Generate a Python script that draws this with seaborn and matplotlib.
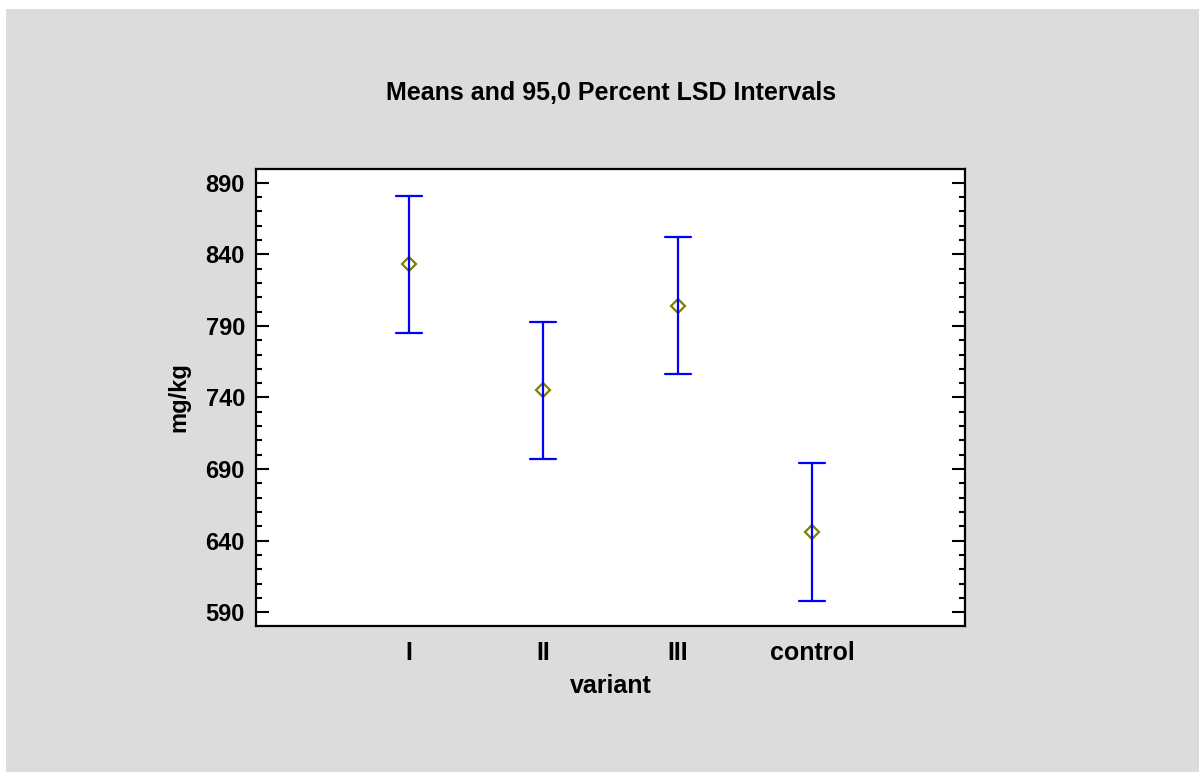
import numpy as np
import pandas as pd
import matplotlib
matplotlib.use("Agg")
import matplotlib.pyplot as plt
from matplotlib.patches import Rectangle
from matplotlib.ticker import MultipleLocator
import seaborn as sns

# Data
categories = ["I", "II", "III", "control"]
means = [833.0, 745.0, 804.2, 646.0]
half_widths = [48.0, 47.8, 47.9, 48.0]
y_ticks = [590, 640, 690, 740, 790, 840, 890]

title = "Means and 95,0 Percent LSD Intervals"
xlabel = "variant"
ylabel = "mg/kg"

# long-form table: interval limits per category
rows = []
for c, m, h in zip(categories, means, half_widths):
    rows.append({"variant": c, "value": m - h})
    rows.append({"variant": c, "value": m + h})
df = pd.DataFrame(rows)

sns.set_style("white")
plt.rcParams["font.family"] = ["Liberation Sans", "DejaVu Sans"]
plt.rcParams["font.weight"] = "bold"
plt.rcParams["text.color"] = "black"
plt.rcParams["axes.labelcolor"] = "black"
plt.rcParams["xtick.color"] = "black"
plt.rcParams["ytick.color"] = "black"

fig = plt.figure(figsize=(11.99, 7.72), dpi=100, facecolor="white")
fig.patches.append(Rectangle((6 / 1199, 0), 1 - 6 / 1199, (772 - 9) / 772,
                             transform=fig.transFigure, facecolor="#DCDCDC",
                             edgecolor="none", zorder=-10))
ax = fig.add_axes([256 / 1199, 1 - 626 / 772, (965 - 256) / 1199, (626 - 169) / 772])
ax.set_facecolor("white")

sns.pointplot(data=df, x="variant", y="value", order=categories,
              estimator="mean", errorbar=lambda v: (v.min(), v.max()),
              linestyle="none", marker="D", markersize=7,
              markerfacecolor="none", markeredgecolor="#7F7F00",
              markeredgewidth=1.6, color="#7F7F00", capsize=0.195,
              err_kws={"color": "#0000FF", "linewidth": 1.6}, ax=ax)

ax.set_xlim(-1.14, 4.14)
ax.set_ylim(580.4, 899.6)
ax.set_yticks(y_ticks)
ax.yaxis.set_minor_locator(MultipleLocator(10))

for s in ax.spines.values():
    s.set_visible(True)
    s.set_color("black")
    s.set_linewidth(1.6)

ax.tick_params(axis="y", which="major", direction="in", length=9.5, width=1.5,
               left=True, right=True, labelsize=17, pad=8, colors="black",
               labelcolor="black")
ax.tick_params(axis="y", which="minor", direction="in", length=4, width=1.5,
               left=True, right=True)
ax.tick_params(axis="x", which="both", length=0, labelsize=18, pad=11,
               labelcolor="black")
for lab in ax.get_xticklabels() + ax.get_yticklabels():
    lab.set_fontweight("bold")
    lab.set_color("black")

ax.set_xlabel(xlabel, fontsize=18, fontweight="bold", labelpad=6, color="black")
ax.set_ylabel(ylabel, fontsize=17, fontweight="bold", labelpad=11, color="black")
fig.text(611 / 1199, 1 - 93 / 772, title, ha="center", va="center",
         fontsize=18, fontweight="bold", color="black")

fig.savefig("out.png", dpi=100, facecolor=fig.get_facecolor())
